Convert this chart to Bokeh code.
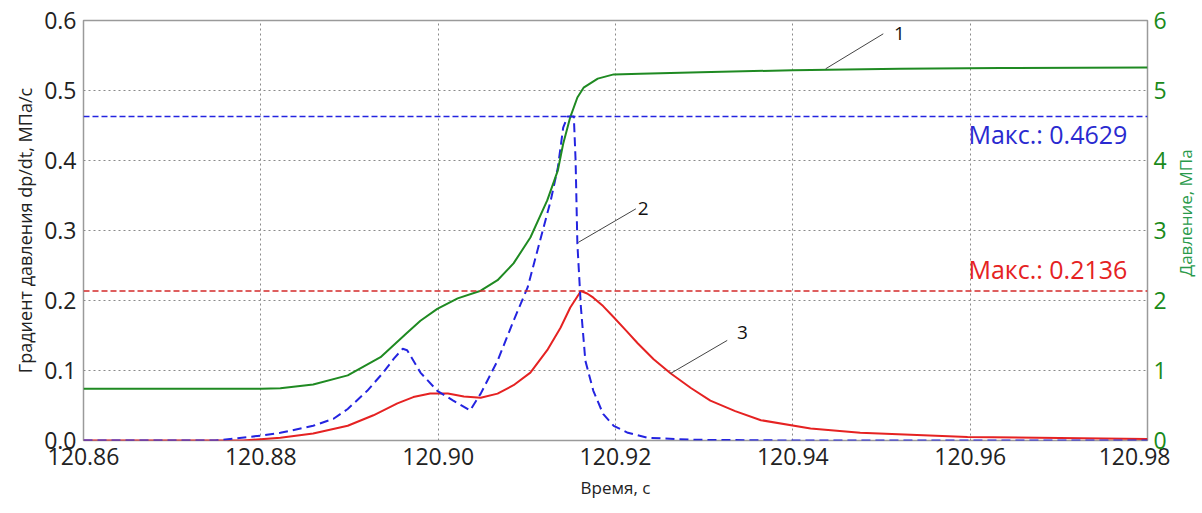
import math
from bokeh.plotting import figure
from bokeh.layouts import row
from bokeh.models import (LinearAxis, Range1d, FixedTicker, Span, Label,
                          PrintfTickFormatter)
from bokeh.embed import file_html
from bokeh.resources import INLINE

# ---------------- data ----------------
# Curve 1: pressure, MPa (right axis)
t_press = [120.8600, 120.8732, 120.8800, 120.8822, 120.8859, 120.8898, 120.8935,
           120.8965, 120.8980, 120.8999, 120.9022, 120.9048, 120.9067, 120.9085,
           120.9104, 120.9123, 120.9135, 120.9141, 120.9149, 120.9157, 120.9164,
           120.9180, 120.9198, 120.9228, 120.9296, 120.9400, 120.9521, 120.9634,
           120.9800]
press = [0.74, 0.74, 0.74, 0.745, 0.80, 0.93, 1.19,
         1.54, 1.71, 1.88, 2.03, 2.14, 2.29, 2.53,
         2.90, 3.43, 3.86, 4.24, 4.62, 4.90, 5.04,
         5.17, 5.23, 5.24, 5.26, 5.29, 5.31, 5.32,
         5.33]

# Curve 2: pressure gradient dp/dt, MPa/s (dashed blue, left axis)
t_grad2 = [120.8600, 120.8749, 120.8800, 120.8822, 120.8859, 120.8882, 120.8898,
           120.8920, 120.8938, 120.8950, 120.8960, 120.8965, 120.8980, 120.8999,
           120.9017, 120.9036, 120.9048, 120.9067, 120.9085, 120.9101, 120.9115,
           120.9127, 120.9135, 120.9141, 120.9146, 120.9153, 120.9155, 120.9157,
           120.9161, 120.9166, 120.9175, 120.9186, 120.9198, 120.9214, 120.9236,
           120.9288, 120.9400, 120.9800]
grad2 = [0.0, 0.0, 0.007, 0.011, 0.021, 0.031, 0.045,
         0.071, 0.097, 0.117, 0.131, 0.129, 0.097, 0.071,
         0.057, 0.043, 0.067, 0.114, 0.171, 0.219, 0.286,
         0.343, 0.390, 0.447, 0.4629, 0.4629, 0.400, 0.281,
         0.190, 0.114, 0.071, 0.038, 0.021, 0.011, 0.004,
         0.001, 0.0, 0.0]

# Curve 3: pressure gradient dp/dt, MPa/s (solid red, left axis)
t_grad3 = [120.8600, 120.8780, 120.8822, 120.8859, 120.8898, 120.8927, 120.8954,
           120.8972, 120.8991, 120.9011, 120.9029, 120.9048, 120.9067, 120.9085,
           120.9104, 120.9123, 120.9138, 120.9149, 120.9161, 120.9168, 120.9175,
           120.9186, 120.9198, 120.9212, 120.9225, 120.9243, 120.9262, 120.9285,
           120.9307, 120.9335, 120.9364, 120.9420, 120.9476, 120.9597, 120.9800]
grad3 = [0.0, 0.0, 0.004, 0.010, 0.021, 0.036, 0.053,
         0.062, 0.067, 0.067, 0.063, 0.061, 0.067, 0.079,
         0.097, 0.129, 0.161, 0.190, 0.2136, 0.210, 0.204,
         0.192, 0.176, 0.157, 0.139, 0.116, 0.096, 0.075,
         0.057, 0.042, 0.029, 0.017, 0.011, 0.005, 0.002]

x_ticks = [120.86, 120.88, 120.90, 120.92, 120.94, 120.96, 120.98]
y_ticks = [0.0, 0.1, 0.2, 0.3, 0.4, 0.5, 0.6]
p_ticks = [0, 1, 2, 3, 4, 5, 6]

FONT = "Open Sans"
GREEN = "#1f8a22"
BLUE = "#2424e0"
RED = "#e52222"

p = figure(width=1170, height=513, output_backend="svg", toolbar_location=None,
           x_range=Range1d(120.86, 120.98), y_range=Range1d(0, 0.6),
           min_border_left=83, min_border_right=23, min_border_top=20,
           min_border_bottom=73)
p.extra_y_ranges = {"press": Range1d(0, 6)}
p.background_fill_color = "white"
p.border_fill_color = "white"
p.outline_line_color = "#9a9a9a"
p.outline_line_width = 1.5

# axes
p.xaxis.ticker = FixedTicker(ticks=x_ticks)
p.xaxis.formatter = PrintfTickFormatter(format="%.2f")
p.yaxis.ticker = FixedTicker(ticks=y_ticks)
p.yaxis.formatter = PrintfTickFormatter(format="%.1f")

rax = LinearAxis(y_range_name="press", ticker=FixedTicker(ticks=p_ticks),
                 formatter=PrintfTickFormatter(format="%d"))
p.add_layout(rax, "right")

p.xaxis[0].axis_label = "Время, с"
p.yaxis[0].axis_label = "Градиент давления dp/dt, МПа/с"

for ax in [p.xaxis[0], p.yaxis[0], rax]:
    ax.axis_line_color = None
    ax.major_tick_line_color = None
    ax.minor_tick_line_color = None
    ax.major_tick_out = 0
    ax.major_tick_in = 0
    ax.minor_tick_out = 0
    ax.minor_tick_in = 0
    ax.major_label_text_font = FONT
    ax.major_label_text_font_size = "23px"
    ax.axis_label_text_font = FONT
    ax.axis_label_text_font_size = "17px"
    ax.axis_label_text_font_style = "normal"
    ax.major_label_standoff = 7
    ax.axis_label_standoff = 6
p.yaxis[0].axis_label_text_font_size = "18px"
p.yaxis[0].axis_label_standoff = 4
p.xaxis[0].axis_label_standoff = 8
p.xaxis[0].major_label_text_color = "#222222"
p.yaxis[0].major_label_text_color = "#222222"
p.xaxis[0].axis_label_text_color = "#222222"
p.yaxis[0].axis_label_text_color = "#222222"
rax.major_label_text_color = "#1a8a1a"
rax.major_label_standoff = 6

# grid
for g in [p.xgrid[0], p.ygrid[0]]:
    g.grid_line_color = "#8a8a8a"
    g.grid_line_dash = "2 3"
    g.grid_line_width = 1

# max lines
max2 = max(grad2)
max3 = max(grad3)
p.add_layout(Span(location=max2, dimension="width", line_color=BLUE,
                  line_dash="6 3", line_width=1.5))
p.add_layout(Span(location=max3, dimension="width", line_color="#d42a2a",
                  line_dash="6 3", line_width=1.5))

# curves
p.line(t_grad3, grad3, line_color=RED, line_width=2, line_join="round")
p.line(t_grad2, grad2, line_color=BLUE, line_width=2, line_dash="9 5",
       line_join="round")
p.line(t_press, press, line_color=GREEN, line_width=2, y_range_name="press",
       line_join="round")

# max labels
p.add_layout(Label(x=120.9598, y=max2, y_offset=-18, text=f"Макс.: {max2:.4f}",
                   text_color="#2a2ad0", text_font=FONT, text_font_size="25px",
                   text_baseline="alphabetic"))
p.add_layout(Label(x=120.9598, y=max3, y_offset=22, text=f"Макс.: {max3:.4f}",
                   text_color=RED, text_font=FONT, text_font_size="25px",
                   text_baseline="alphabetic"))

# callouts
lead_x0 = [120.9437, 120.9158, 120.9262]
lead_y0 = [0.531, 0.283, 0.0957]
lead_x1 = [120.9502, 120.9223, 120.9326]
lead_y1 = [0.581, 0.331, 0.143]
p.segment(lead_x0, lead_y0, lead_x1, lead_y1, line_color="#444444", line_width=1)
for tx, ty, s in [(120.9514, 0.581, "1"), (120.9225, 0.331, "2"), (120.9337, 0.154, "3")]:
    p.add_layout(Label(x=tx, y=ty, text=s, text_font=FONT, text_font_size="19px",
                       text_color="#111111", text_baseline="middle", text_align="left"))

# right-axis title strip (text reads bottom-to-top)
p2 = figure(width=32, height=513, output_backend="svg", toolbar_location=None,
            x_range=Range1d(0, 32), y_range=Range1d(0, 513),
            x_axis_type=None, y_axis_type=None,
            min_border_left=0, min_border_right=0, min_border_top=0,
            min_border_bottom=0)
p2.outline_line_color = None
p2.background_fill_color = "white"
p2.border_fill_color = "white"
p2.xgrid.visible = False
p2.ygrid.visible = False
p2.add_layout(Label(x=15, y=278, angle=math.pi / 2, text="Давление, МПа",
                    text_color="#2a9a4a", text_font=FONT, text_font_size="17px",
                    text_align="center", text_baseline="middle"))

layout = row(p, p2, spacing=0)
open("out.html", "w").write(file_html(layout, INLINE))
